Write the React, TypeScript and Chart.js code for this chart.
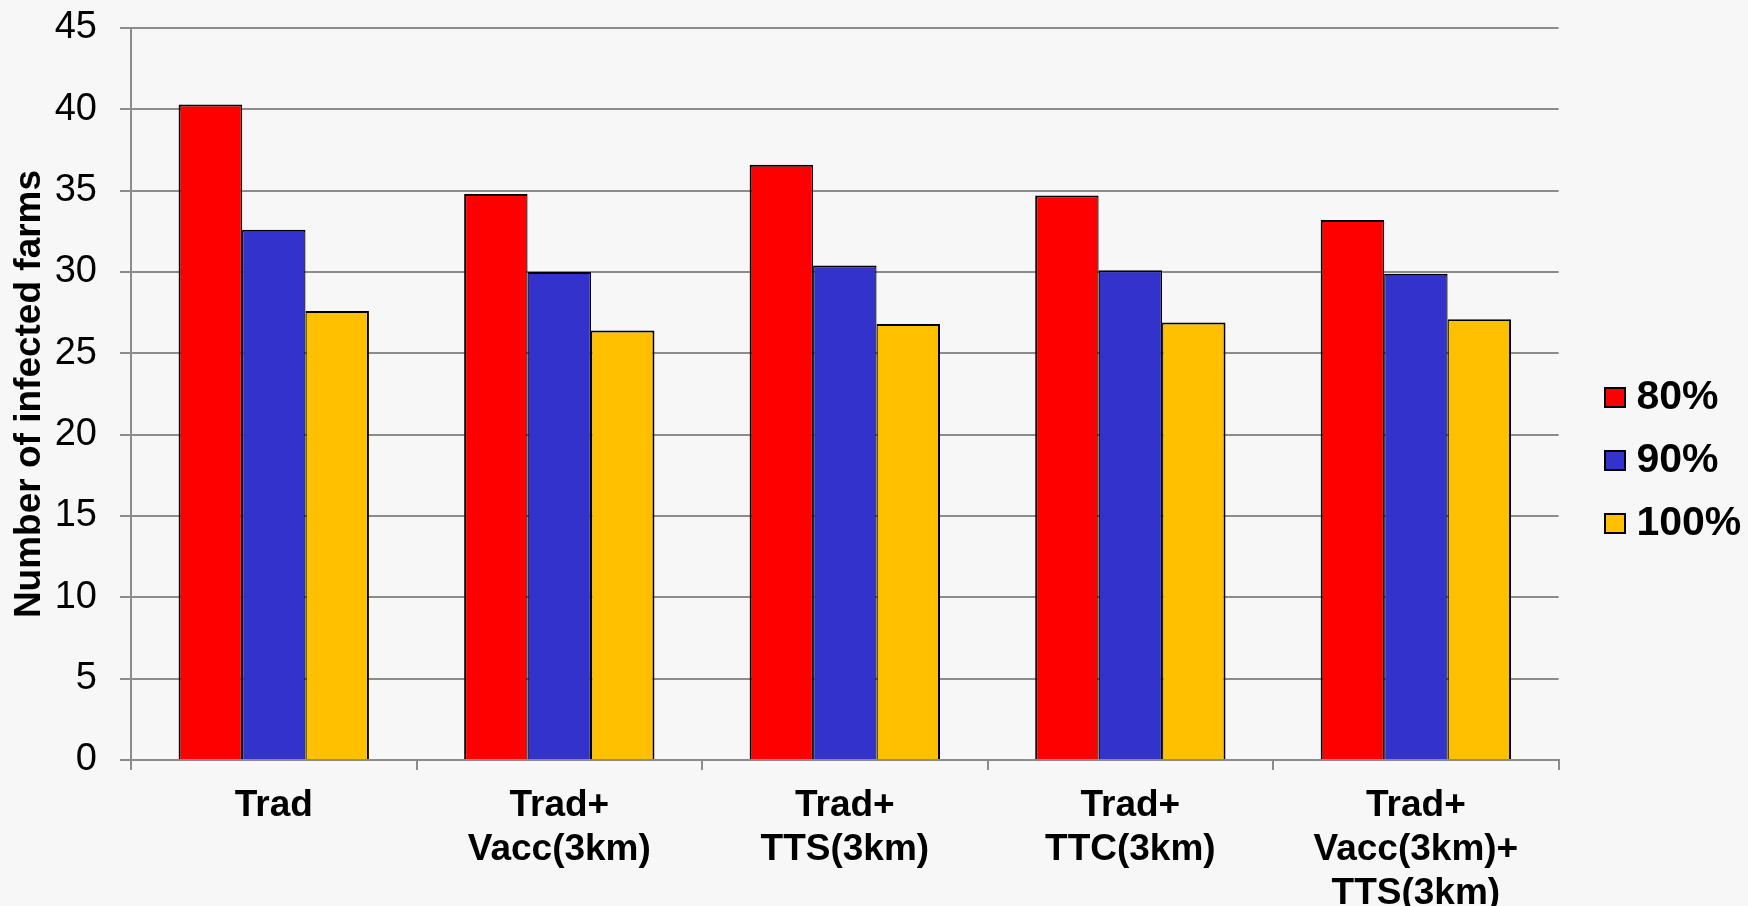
import { useEffect, useRef } from 'react';
import { Chart, registerables } from 'chart.js';

Chart.register(...registerables);

// Control strategies (multi-line category labels)
const categories: string[][] = [
  ['Trad'],
  ['Trad+', 'Vacc(3km)'],
  ['Trad+', 'TTS(3km)'],
  ['Trad+', 'TTC(3km)'],
  ['Trad+', 'Vacc(3km)+', 'TTS(3km)'],
];

// Compliance levels
const seriesLabels = ['80%', '90%', '100%'];
const seriesColors = ['#ff0000', '#3333cc', '#ffc000'];
const values80 = [40.3, 34.8, 36.6, 34.7, 33.2];
const values90 = [32.6, 30.0, 30.4, 30.1, 29.9];
const values100 = [27.6, 26.4, 26.8, 26.9, 27.1];

const yMin = 0;
const yMax = 45;
const yStep = 5;

const yTitle = 'Number of infected farms';

const FONT = "'Liberation Sans', Arial, Helvetica, sans-serif";
const GRID = '#8c8c8c';
const BG = '#f7f7f7';

// Legend swatch: a bordered square sitting in the right half of a wider
// transparent canvas, so it ends up close to its label text.
function makeSwatch(color: string): HTMLCanvasElement {
  const c = document.createElement('canvas');
  c.width = 44;
  c.height = 23;
  const g = c.getContext('2d');
  if (g) {
    g.fillStyle = color;
    g.fillRect(21, 1, 22, 21);
    g.strokeStyle = '#000000';
    g.lineWidth = 2;
    g.strokeRect(22, 2, 20, 19);
  }
  return c;
}

// Nudges the right-hand legend towards the page edge and slightly up
const legendShift = {
  id: 'legendShift',
  afterLayout(chart: any) {
    const lg = chart.legend;
    if (lg) {
      lg.left += 13.3;
      lg.right += 13.3;
      lg.top -= 6.5;
      lg.bottom -= 6.5;
    }
  },
};

export default function App() {
  const ref = useRef<HTMLCanvasElement | null>(null);

  useEffect(() => {
    document.body.style.margin = '0';
    document.body.style.background = BG;
    const canvas = ref.current;
    if (!canvas) return;

    const swatches = seriesColors.map(makeSwatch);
    const baseLabels = Chart.defaults.plugins.legend.labels.generateLabels;

    const chart = new Chart(canvas, {
      type: 'bar',
      data: {
        labels: categories,
        datasets: [
          {
            label: seriesLabels[0],
            data: values80,
            backgroundColor: seriesColors[0],
            borderColor: '#000000',
            borderWidth: { top: 2, left: 2, right: 1.25, bottom: 0 },
          },
          {
            label: seriesLabels[1],
            data: values90,
            backgroundColor: seriesColors[1],
            borderColor: '#000000',
            borderWidth: { top: 2, left: 1.25, right: 1.25, bottom: 0 },
          },
          {
            label: seriesLabels[2],
            data: values100,
            backgroundColor: seriesColors[2],
            borderColor: '#000000',
            borderWidth: { top: 2, left: 1.25, right: 2, bottom: 0 },
          },
        ],
      },
      options: {
        responsive: false,
        animation: false,
        datasets: {
          bar: {
            barPercentage: 1,
            categoryPercentage: 3 / 4.5,
          },
        },
        layout: {
          padding: { top: 28, right: 10, bottom: 0, left: 0 },
        },
        plugins: {
          tooltip: { enabled: false },
          legend: {
            position: 'right',
            align: 'center',
            labels: {
              color: '#000000',
              font: { family: FONT, size: 41, weight: 'bold' },
              usePointStyle: true,
              pointStyleWidth: 22,
              boxWidth: 22,
              boxHeight: 21,
              padding: 22,
              generateLabels(chart: any) {
                const items = baseLabels(chart);
                items.forEach((item: any, i: number) => {
                  item.pointStyle = swatches[i % swatches.length];
                });
                return items;
              },
            },
          },
        },
        scales: {
          x: {
            type: 'category',
            offset: true,
            grid: {
              offset: true,
              drawOnChartArea: false,
              drawTicks: true,
              tickLength: 10,
              color: GRID,
              lineWidth: 2,
            },
            border: { display: true, color: GRID, width: 2 },
            ticks: {
              color: '#000000',
              font: { family: FONT, size: 37, weight: 'bold', lineHeight: 1.19 },
              padding: 14,
              maxRotation: 0,
              minRotation: 0,
              autoSkip: false,
            },
            afterFit(scale: any) {
              scale.height = 146;
              scale.paddingLeft = 0;
              scale.paddingRight = 0;
            },
          },
          y: {
            min: yMin,
            max: yMax,
            grid: {
              color: GRID,
              lineWidth: 2,
              drawTicks: true,
              tickLength: 11,
            },
            border: { display: true, color: GRID, width: 2 },
            ticks: {
              stepSize: yStep,
              color: '#000000',
              font: { family: FONT, size: 38 },
              padding: 23,
            },
            title: {
              display: true,
              text: yTitle,
              color: '#000000',
              font: { family: FONT, size: 37, weight: 'bold' },
              padding: { top: 8, bottom: 0 },
            },
            afterFit(scale: any) {
              scale.width = 131;
              scale.paddingTop = 0;
              scale.paddingBottom = 0;
            },
          },
        },
      },
      plugins: [legendShift],
    });

    return () => chart.destroy();
  }, []);

  return (
    <div
      style={{
        position: 'absolute',
        left: 0,
        top: 0,
        width: 1748,
        height: 906,
        background: BG,
      }}
    >
      <canvas ref={ref} width={1748} height={906} />
    </div>
  );
}
